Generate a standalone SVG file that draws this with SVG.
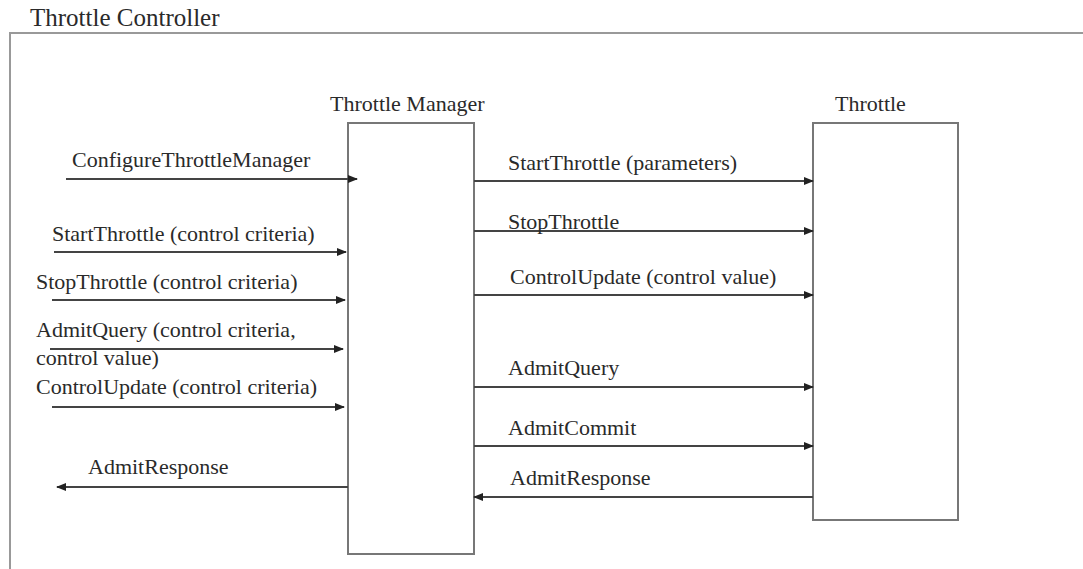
<svg xmlns="http://www.w3.org/2000/svg" width="1083" height="569" viewBox="0 0 1083 569">
  <defs>
    <marker id="arrow" markerWidth="10" markerHeight="8" refX="9" refY="4" orient="auto" markerUnits="userSpaceOnUse">
      <path d="M0,0 L10,4 L0,8 Z" fill="#222"/>
    </marker>
    <style>
      .lbl { font-family: 'Liberation Serif', 'DejaVu Serif', serif; font-size: 22px; fill: #2a2a2a; }
      .title { font-size: 25px; }
      .frame { fill: none; stroke: #999; stroke-width: 2; }
      .box { fill: #fff; stroke: #777; stroke-width: 2; }
      .msg { stroke: #444; stroke-width: 2; fill: none; marker-end: url(#arrow); }
    </style>
  </defs>
  <rect width="1083" height="569" fill="#fff"/>

  <!-- enclosing controller boundary (open on the right and bottom) -->
  <g id="controller">
    <polyline class="frame" points="10,569 10,33 1083,33"/>
    <text class="lbl title" font-family="Liberation Serif, serif" x="30" y="26">Throttle Controller</text>
  </g>

  <g id="throttle-manager">
    <rect class="box" x="348" y="123" width="126" height="431"/>
    <text class="lbl" x="330" y="111">Throttle Manager</text>
  </g>

  <g id="throttle">
    <rect class="box" x="813" y="123" width="145" height="397"/>
    <text class="lbl" x="835" y="111">Throttle</text>
  </g>

  <g id="connectors">
    <!-- external requests into the manager -->
    <line class="msg" x1="66" y1="179" x2="357" y2="179"/>
    <line class="msg" x1="54" y1="252" x2="346" y2="252"/>
    <line class="msg" x1="52" y1="300" x2="345" y2="300"/>
    <line class="msg" x1="50" y1="349" x2="343" y2="349"/>
    <line class="msg" x1="52" y1="407" x2="344" y2="407"/>
    <line class="msg" x1="348" y1="487" x2="57" y2="487"/>
    <!-- manager to throttle -->
    <line class="msg" x1="474" y1="181" x2="813" y2="181"/>
    <line class="msg" x1="474" y1="231" x2="813" y2="231"/>
    <line class="msg" x1="474" y1="295" x2="813" y2="295"/>
    <line class="msg" x1="474" y1="387" x2="813" y2="387"/>
    <line class="msg" x1="474" y1="446" x2="813" y2="446"/>
    <line class="msg" x1="813" y1="497" x2="474" y2="497"/>
  </g>

  <g id="labels" class="lbl">
    <text class="lbl" x="72" y="167">ConfigureThrottleManager</text>
    <text class="lbl" x="52" y="241">StartThrottle (control criteria)</text>
    <text class="lbl" x="36" y="289">StopThrottle (control criteria)</text>
    <text class="lbl" x="36" y="337">AdmitQuery (control criteria,</text>
    <text class="lbl" x="36" y="365">control value)</text>
    <text class="lbl" x="36" y="394">ControlUpdate (control criteria)</text>
    <text class="lbl" x="88" y="474">AdmitResponse</text>
    <text class="lbl" x="508" y="170">StartThrottle (parameters)</text>
    <text class="lbl" x="508" y="229">StopThrottle</text>
    <text class="lbl" x="510" y="284">ControlUpdate (control value)</text>
    <text class="lbl" x="508" y="375">AdmitQuery</text>
    <text class="lbl" x="508" y="435">AdmitCommit</text>
    <text class="lbl" x="510" y="485">AdmitResponse</text>
  </g>
</svg>
